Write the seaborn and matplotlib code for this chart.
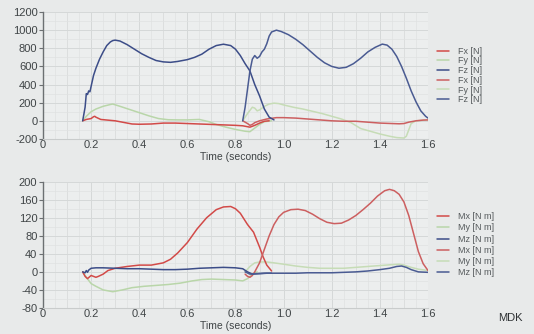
import matplotlib
matplotlib.use("Agg")
import matplotlib.pyplot as plt
from matplotlib.ticker import MultipleLocator
import seaborn as sns

# ---- Force data (N) ----
fz1_t = [0.165, 0.175, 0.18, 0.185, 0.19, 0.195, 0.20, 0.21, 0.22, 0.235, 0.25, 0.265, 0.28, 0.29,
         0.30, 0.32, 0.35, 0.38, 0.41, 0.44, 0.47, 0.50, 0.53, 0.56, 0.60, 0.63, 0.66, 0.69, 0.72,
         0.75, 0.78, 0.80, 0.82, 0.84, 0.86, 0.88, 0.90, 0.92, 0.94, 0.96]
fz1_v = [0, 150, 300, 290, 330, 320, 380, 500, 580, 680, 760, 830, 870, 885,
         890, 880, 840, 790, 740, 700, 665, 650, 645, 655, 675, 700, 735, 790, 830,
         845, 830, 790, 720, 630, 550, 400, 275, 130, 40, 10]

fz2_t = [0.83, 0.84, 0.85, 0.86, 0.87, 0.88, 0.89, 0.90, 0.91, 0.92, 0.93, 0.94, 0.95, 0.97,
         0.99, 1.02, 1.05, 1.08, 1.11, 1.14, 1.17, 1.20, 1.23, 1.26, 1.29, 1.32, 1.35, 1.38,
         1.41, 1.43, 1.45, 1.47, 1.49, 1.51, 1.53, 1.55, 1.57, 1.59, 1.60]
fz2_v = [0, 150, 350, 550, 680, 720, 690, 710, 760, 790, 850, 935, 980, 1000,
         985, 950, 900, 840, 770, 700, 640, 600, 580, 590, 630, 690, 760, 810,
         846, 835, 790, 710, 600, 470, 330, 210, 110, 50, 30]

fy1_t = [0.165, 0.18, 0.20, 0.22, 0.25, 0.28, 0.29, 0.32, 0.36, 0.40, 0.44, 0.48, 0.52, 0.56,
         0.60, 0.65, 0.69, 0.72, 0.76, 0.80, 0.84, 0.86, 0.88, 0.90, 0.92, 0.95]
fy1_v = [0, 50, 100, 130, 160, 180, 185, 160, 125, 90, 55, 25, 12, 10,
         10, 15, -10, -40, -70, -95, -115, -120, -80, -40, -10, 0]

fy2_t = [0.83, 0.85, 0.87, 0.88, 0.89, 0.90, 0.92, 0.94, 0.96, 0.98, 1.00, 1.04, 1.08, 1.12,
         1.16, 1.20, 1.24, 1.28, 1.32, 1.36, 1.40, 1.44, 1.47, 1.50, 1.51, 1.52, 1.53, 1.55, 1.60]
fy2_v = [0, 80, 150, 140, 110, 120, 160, 185, 195, 190, 175, 150, 130, 105,
         80, 50, 20, -20, -85, -115, -145, -170, -185, -190, -170, -100, -30, 0, 10]

fx1_t = [0.165, 0.18, 0.19, 0.20, 0.21, 0.215, 0.22, 0.24, 0.26, 0.30, 0.34, 0.37, 0.40, 0.45,
         0.50, 0.55, 0.60, 0.65, 0.70, 0.75, 0.80, 0.83, 0.85, 0.86, 0.88, 0.90, 0.92, 0.94]
fx1_v = [0, 15, 20, 25, 45, 50, 40, 15, 10, 0, -20, -35, -38, -35,
         -25, -25, -30, -35, -40, -45, -50, -55, -65, -70, -50, -25, -5, 0]

fx2_t = [0.83, 0.85, 0.86, 0.87, 0.88, 0.90, 0.93, 0.97, 1.00, 1.05, 1.10, 1.15, 1.20, 1.25,
         1.30, 1.35, 1.40, 1.45, 1.48, 1.50, 1.52, 1.55, 1.58, 1.60]
fx2_v = [0, -30, -50, -40, -20, 0, 20, 35, 35, 30, 20, 10, 0, -5,
         -5, -15, -25, -30, -33, -30, -15, 0, 8, 10]

# ---- Moment data (N m) ----
mx1_t = [0.165, 0.175, 0.185, 0.20, 0.21, 0.22, 0.23, 0.25, 0.27, 0.30, 0.35, 0.40, 0.45, 0.50,
         0.53, 0.56, 0.60, 0.64, 0.68, 0.72, 0.75, 0.78, 0.80, 0.82, 0.85, 0.875, 0.90, 0.915,
         0.93, 0.95]
mx1_v = [0, -10, -15, -8, -10, -12, -10, -5, 3, 8, 12, 15, 15, 20,
         28, 42, 65, 95, 120, 138, 144, 145, 140, 130, 105, 88, 55, 33,
         15, 2]

mx2_t = [0.84, 0.85, 0.86, 0.87, 0.88, 0.90, 0.92, 0.94, 0.96, 0.98, 1.00, 1.03, 1.06, 1.09,
         1.12, 1.15, 1.18, 1.21, 1.24, 1.27, 1.30, 1.33, 1.36, 1.39, 1.42, 1.44, 1.46, 1.48,
         1.50, 1.52, 1.54, 1.56, 1.58, 1.60]
mx2_v = [-5, -10, -12, -8, 0, 20, 50, 80, 105, 122, 132, 138, 139, 136,
         128, 118, 110, 107, 108, 115, 125, 138, 152, 168, 180, 183, 180, 172,
         155, 125, 85, 45, 18, 3]

my1_t = [0.165, 0.18, 0.20, 0.22, 0.25, 0.29, 0.33, 0.37, 0.42, 0.47, 0.52, 0.57, 0.62, 0.66,
         0.70, 0.75, 0.80, 0.83, 0.85, 0.87, 0.89]
my1_v = [0, -12, -26, -32, -40, -44, -40, -35, -32, -30, -28, -25, -20, -17,
         -16, -17, -18, -20, -15, -5, 0]

my2_t = [0.84, 0.86, 0.88, 0.90, 0.93, 0.96, 1.00, 1.05, 1.10, 1.15, 1.20, 1.25, 1.30, 1.35,
         1.40, 1.45, 1.48, 1.50, 1.53, 1.56, 1.60]
my2_v = [0, 12, 20, 22, 22, 20, 17, 13, 10, 8, 8, 8, 10, 12,
         14, 16, 17, 15, 10, 6, 3]

mz1_t = [0.165, 0.175, 0.18, 0.185, 0.19, 0.20, 0.22, 0.25, 0.30, 0.35, 0.40, 0.45, 0.50, 0.55,
         0.60, 0.65, 0.70, 0.75, 0.80, 0.83, 0.85, 0.87, 0.90, 0.93, 0.95]
mz1_v = [0, -2, 3, -1, 4, 8, 9, 9, 8, 7, 7, 6, 5, 5,
         6, 8, 9, 10, 9, 7, 0, -5, -4, -3, -3]

mz2_t = [0.84, 0.86, 0.88, 0.92, 0.96, 1.00, 1.05, 1.10, 1.15, 1.20, 1.25, 1.30, 1.35, 1.40,
         1.44, 1.47, 1.49, 1.51, 1.53, 1.56, 1.60]
mz2_v = [0, -5, -4, -3, -3, -3, -3, -2, -2, -2, -1, 0, 2, 5,
         8, 12, 13, 10, 5, 0, -1]

force_labels = ["Fx [N]", "Fy [N]", "Fz [N]"]
moment_labels = ["Mx [N m]", "My [N m]", "Mz [N m]"]
x_ticks = [0, 0.2, 0.4, 0.6, 0.8, 1.0, 1.2, 1.4, 1.6]
x_tick_labels = ["0", "0.2", "0.4", "0.6", "0.8", "1.0", "1.2", "1.4", "1.6"]

RED1, GREEN1, BLUE1 = "#d24a48", "#b9d6a9", "#3c4d88"
RED2, GREEN2, BLUE2 = "#cc5f60", "#c6dcb6", "#4a5b92"

sns.set_theme(style="white")
plt.rcParams["font.family"] = ["Liberation Sans", "DejaVu Sans"]
plt.rcParams["axes.unicode_minus"] = False

BG = "#e8eaea"
PANEL = "#eceeee"
TXT = "#3f4446"

fig = plt.figure(figsize=(5.34, 3.34), dpi=100, facecolor=BG)
ax_f = fig.add_axes([0.0805, 0.584, 0.721, 0.380])
ax_m = fig.add_axes([0.0805, 0.078, 0.721, 0.378])

force_series = [
    (fx1_t, fx1_v, RED1, force_labels[0]),
    (fy1_t, fy1_v, GREEN1, force_labels[1]),
    (fz1_t, fz1_v, BLUE1, force_labels[2]),
    (fx2_t, fx2_v, RED2, force_labels[0]),
    (fy2_t, fy2_v, GREEN2, force_labels[1]),
    (fz2_t, fz2_v, BLUE2, force_labels[2]),
]
moment_series = [
    (mx1_t, mx1_v, RED1, moment_labels[0]),
    (my1_t, my1_v, GREEN1, moment_labels[1]),
    (mz1_t, mz1_v, BLUE1, moment_labels[2]),
    (mx2_t, mx2_v, RED2, moment_labels[0]),
    (my2_t, my2_v, GREEN2, moment_labels[1]),
    (mz2_t, mz2_v, BLUE2, moment_labels[2]),
]


def draw_panel(ax, series, ylim, ymajor, yminor, spacing):
    # draw the light green curves first so the others sit on top
    order = [1, 4, 0, 3, 2, 5]
    handles = {}
    for i in order:
        t, v, c, lab = series[i]
        sns.lineplot(x=t, y=v, ax=ax, color=c, linewidth=1.1, sort=False,
                     estimator=None, legend=False)
        handles[i] = ax.lines[-1]
    ax.set_xlim(0, 1.6)
    ax.set_ylim(*ylim)
    ax.set_facecolor(PANEL)
    ax.xaxis.set_minor_locator(MultipleLocator(0.05))
    ax.yaxis.set_major_locator(MultipleLocator(ymajor))
    ax.yaxis.set_minor_locator(MultipleLocator(yminor))
    ax.set_xticks(x_ticks)
    ax.set_xticklabels(x_tick_labels)
    # grid every 0.1 s plus a fainter finer grid
    for xv in [k * 0.1 for k in range(1, 17)]:
        ax.axvline(xv, color="#d5d8d8", linewidth=0.7, zorder=0)
    ax.grid(which="minor", color="#e0e2e2", linewidth=0.5, zorder=0)
    ax.grid(which="major", axis="y", color="#d5d8d8", linewidth=0.7, zorder=0)
    ax.set_axisbelow(True)
    for s in ["top", "right"]:
        ax.spines[s].set_visible(False)
    ax.spines["left"].set_color("#6c7072")
    ax.spines["left"].set_linewidth(1.0)
    ax.spines["bottom"].set_color("#c9cccc")
    ax.spines["bottom"].set_linewidth(0.8)
    ax.tick_params(axis="y", which="major", left=True, length=3, width=0.8,
                   color="#6c7072", labelsize=8, labelcolor=TXT, pad=1)
    ax.tick_params(axis="x", which="major", bottom=False, length=0, labelsize=8,
                   labelcolor=TXT, pad=1)
    ax.tick_params(which="minor", left=False, bottom=False, length=0)
    ax.set_xlabel("Time (seconds)", fontsize=7.5, color=TXT, labelpad=1)
    ax.set_ylabel("")
    leg_handles = [handles[i] for i in range(6)]
    leg_labels = [series[i][3] for i in range(6)]
    leg = ax.legend(leg_handles, leg_labels, loc="center left",
                    bbox_to_anchor=(1.015, 0.5), frameon=False, fontsize=6.5,
                    handlelength=1.3, handletextpad=1.0, labelspacing=spacing,
                    borderaxespad=0.0)
    for txt in leg.get_texts():
        txt.set_color("#555a5c")


draw_panel(ax_f, force_series, (-200, 1200), 200, 100, 0.08)
draw_panel(ax_m, moment_series, (-80, 200), 40, 20, 0.25)

fig.text(0.955, 0.048, "MDK", fontsize=8, color="#2e3234", ha="center", va="center")

fig.savefig("out.png", dpi=100, facecolor=BG)
